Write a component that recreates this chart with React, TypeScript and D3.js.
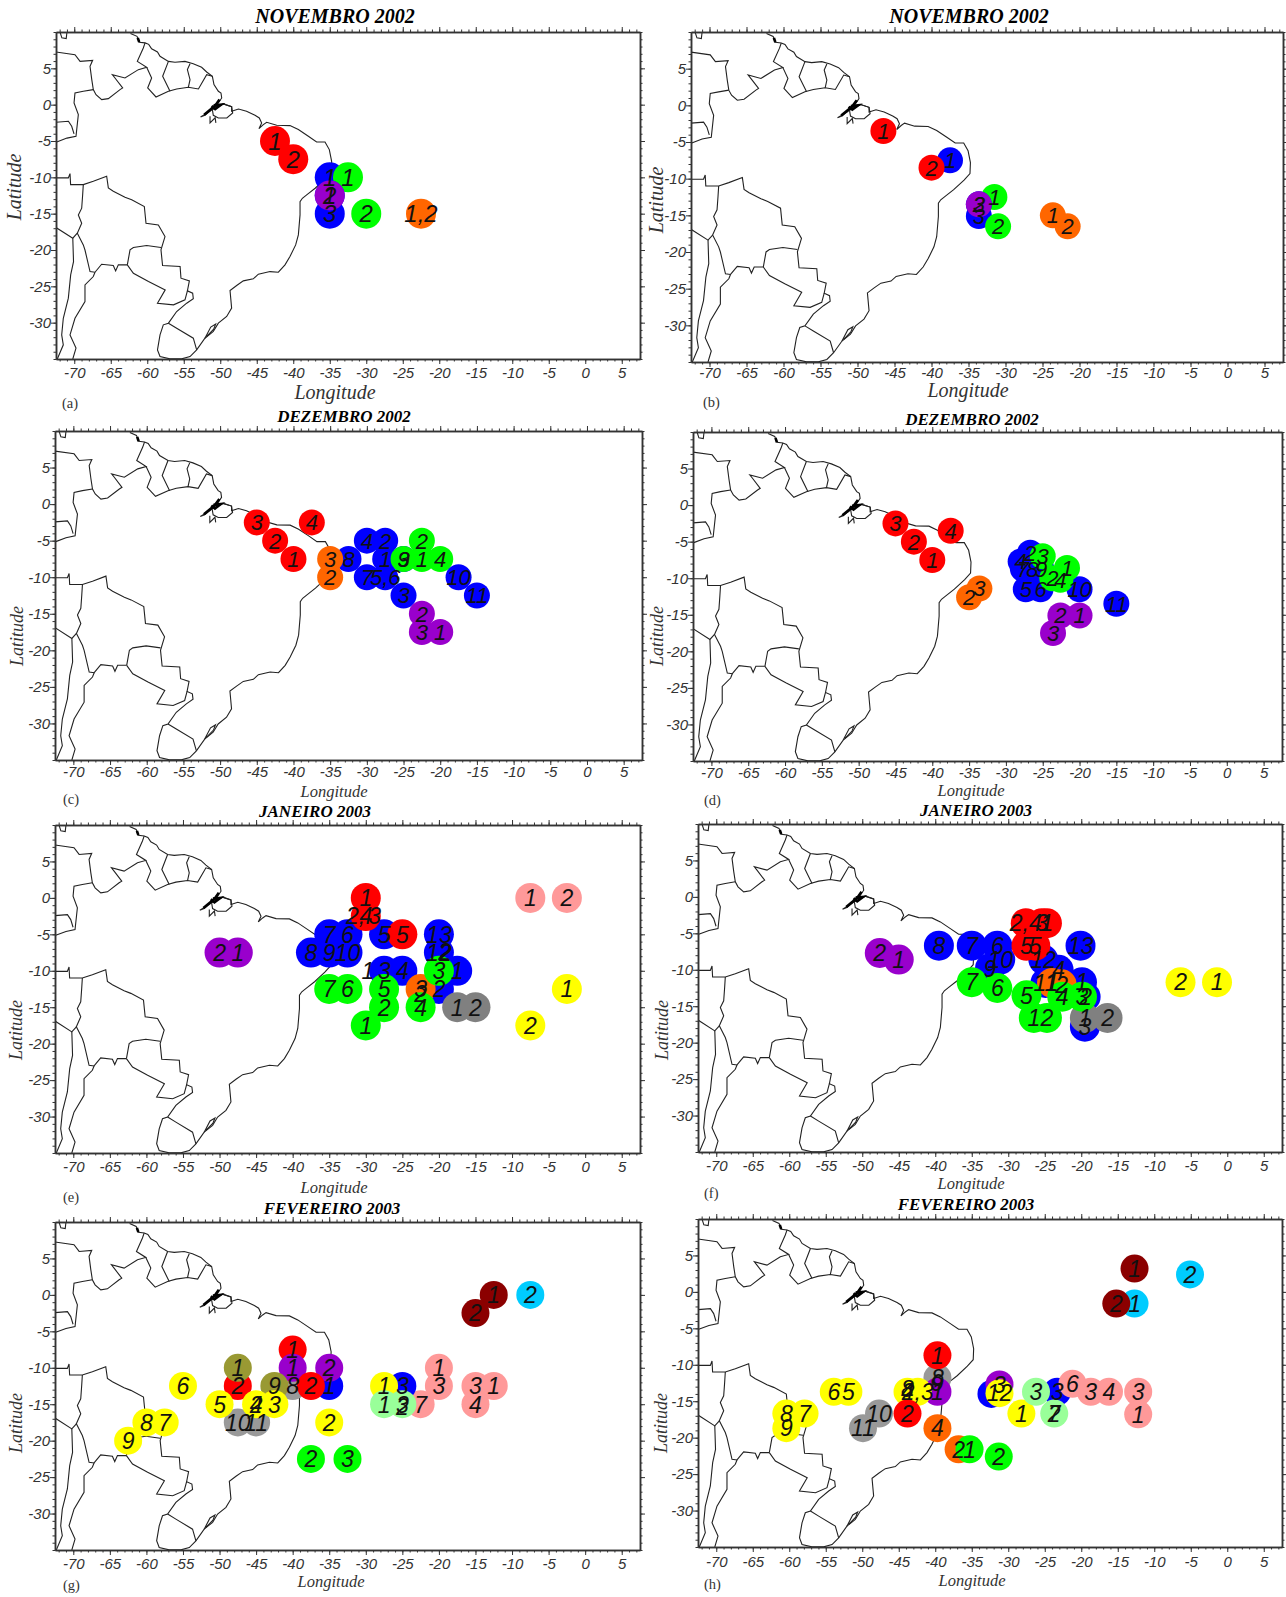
import * as d3 from "d3"
import { useRef, useEffect } from "react"

type LonLat = [number, number]
type Point = [string, number, number, string]

const seriesColors: Record<string, string> = {
  red: "#ff0000",
  blue: "#0000ff",
  green: "#00ff00",
  purple: "#9900cc",
  orange: "#ff6600",
  gray: "#808080",
  silver: "#999999",
  yellow: "#ffff00",
  pink: "#ff9999",
  darkred: "#8b0000",
  cyan: "#00ccff",
  olive: "#999933",
  mint: "#99ff99",
  none: "none",
}

const xMajor = d3.range(-70, 6, 5)
const yMajor = d3.range(-30, 6, 5)
const xMinor = d3.range(-72, 8)
const yMinor = d3.range(-35, 11)

// south america
const coast: LonLat[] = [
  [-62.3, 9.8], [-61.4, 9.4], [-61.1, 8.6], [-60.3, 8.5], [-59.8, 8.3], [-59.4, 7.7], [-58.6, 7.25], [-58.25, 6.65],
  [-57.1, 5.96], [-56.2, 5.83], [-54.83, 5.96], [-53.7, 5.64], [-52.55, 5.14], [-51.86, 4.5], [-51.08, 3.9],
  [-50.86, 2.76], [-50.26, 1.84], [-49.9, 1.6], [-49.8, 0.92], [-50.26, 0.23], [-50.95, -0.45], [-51.4, -0.9],
  [-52.1, -1.46], [-52.7, -1.7], [-51.4, -0.9], [-50.6, -0.2], [-49.58, 0.1], [-48.44, -0.27], [-48.44, -0.9],
  [-47.5, -0.6], [-46.4, -0.9], [-45.24, -1.46], [-44.65, -1.83], [-44.33, -2.52], [-44.7, -3.3], [-44.1, -2.75],
  [-43.64, -2.43], [-42.27, -2.84], [-40.45, -2.88], [-39.3, -3.43], [-37.93, -4.35], [-36.8, -5.13], [-35.65, -5.13],
  [-35.06, -6.18], [-34.74, -7.8], [-34.8, -9.3], [-35.6, -10.2], [-37, -11.5], [-38.16, -12.42], [-38.75, -12.88],
  [-39.07, -13.34], [-39.07, -15.17], [-39.3, -17.92], [-39.67, -19.3], [-40.45, -20.9], [-41.13, -22.05],
  [-42.04, -23.06], [-43.18, -22.97], [-44.78, -23.33], [-45.47, -23.97], [-46.84, -24.25], [-47.75, -24.89],
  [-48.66, -25.58], [-48.44, -28], [-49.12, -29.15], [-50.26, -30.07], [-50.95, -31.2], [-52.1, -32.14],
  [-53.23, -33.74], [-54.14, -34.66], [-55.28, -34.98], [-56.9, -34.98], [-58.25, -34.66], [-58.6, -33.74],
  [-58.25, -31.68], [-57.8, -30.3], [-57.1, -30.07], [-55.97, -28.47], [-54.6, -27.32], [-53.69, -26.7],
  [-53.78, -25.95], [-54.5, -25.62], [-54.23, -24.25], [-55.38, -23.88], [-55.5, -22.28], [-57.9, -22.14],
  [-58.12, -19.99], [-57.57, -18.15], [-58.48, -16.55], [-60.17, -16.32], [-60.4, -14.02], [-62.13, -13.1],
  [-63.05, -12.74], [-64.65, -11.92], [-65.33, -11.46], [-65.56, -9.85], [-67.39, -10.54], [-68.76, -11],
  [-70.5, -11], [-70.58, -9.49], [-70.81, -10.08], [-72.5, -10.08],
]
const marajo: LonLat[] = [
  [-51.08, -0.68], [-49.58, 0.1], [-48.44, -0.27], [-48.3, -1.14], [-49.1, -1.83], [-50.26, -1.83], [-50.95, -1.46], [-51.08, -0.68],
]
const amazonMouth: LonLat[] = [[-51.4, -1.6], [-51.4, -2.5], [-50.7, -1.8], [-50.6, -2.5]]
const patos: LonLat[] = [[-52.1, -32.14], [-51.3, -30.6], [-50.63, -30.2], [-50.9, -30.9], [-51.86, -31.9]]
const uruguay: LonLat[] = [[-57.1, -30.07], [-55.97, -30.76], [-53.69, -32.14], [-53.23, -33.74]]
const bolivia: LonLat[] = [
  [-68.76, -11], [-68.85, -12.42], [-68.98, -14.25], [-69.44, -15.17], [-68.98, -16.32], [-69.58, -17.69],
  [-68.76, -19.3], [-68.53, -20], [-67.84, -22.97], [-67.16, -23.06], [-66.25, -21.96], [-64.65, -22.14],
  [-64.33, -22.87], [-63.96, -22.05], [-62.73, -22.05],
]
const peruChile: LonLat[] = [[-72.5, -16.9], [-70.2, -18.38], [-69.58, -17.69]]
const chileCoast: LonLat[] = [
  [-70.2, -18.38], [-70.1, -21.6], [-70.49, -23.42], [-70.81, -26.63], [-71.5, -29.4], [-71.72, -31.68], [-71.5, -33.05], [-72.32, -35],
]
const andes: LonLat[] = [
  [-67.16, -23.06], [-67.39, -23.65], [-68.53, -24.8], [-68.53, -27.09], [-69.9, -29.4], [-70.58, -31.68], [-69.76, -33.5], [-70.2, -35],
]
const paraguayNorth: LonLat[] = [
  [-62.73, -22.05], [-62.36, -19.99], [-61.9, -19.66], [-60.08, -19.39], [-58.12, -19.66],
]
const paraguaySouth: LonLat[] = [
  [-62.73, -22.05], [-61.9, -23.2], [-59.83, -24.34], [-57.54, -25.49], [-58.6, -27.32], [-56.4, -27.55], [-54.83, -26.86], [-54.5, -25.62],
]
const venezuela: LonLat[] = [
  [-72.5, 7.25], [-69.9, 6.88], [-69.2, 5.96], [-67.48, 6.1], [-67.84, 5.28], [-67.6, 3.44], [-67.39, 2.07], [-67.02, 1.38],
  [-66.24, 0.69], [-65.33, 0.83], [-63.73, 2.07], [-63.37, 2.3], [-64.42, 3.67], [-64.78, 4.13], [-63.05, 3.67],
  [-61.22, 4.82], [-60.08, 5.14], [-61.36, 5.96], [-60.54, 7.8], [-60.3, 8.5],
]
const guianas: LonLat[] = [
  [-60.08, 5.14], [-59.4, 3.67], [-59.94, 2.3], [-58.8, 1.06], [-57.1, 1.84], [-55.97, 2.16], [-54.37, 2.39], [-52.99, 2.16], [-51.86, 4.13], [-51.08, 3.9],
]
const guyanaSuriname: LonLat[] = [[-57.1, 5.96], [-57.89, 3.9], [-56.88, 1.84]]
const surinameGuiana: LonLat[] = [[-54.14, 5.64], [-54.5, 4.82], [-54.14, 3.44], [-54.37, 2.39]]
const colombia: LonLat[] = [
  [-67.39, 2.07], [-68.76, 1.84], [-69.9, 1.61], [-70.03, 0.23], [-69.44, -1.37], [-69.76, -4.35], [-71, -4.6], [-72.4, -5.13],
]
const colombiaPeru: LonLat[] = [[-70.03, -4.03], [-70.35, -2.98], [-70.8, -2.29], [-72.5, -2.43]]
const maracaibo: LonLat[] = [[-71.95, 10], [-71.7, 9.2], [-71.1, 9.1], [-71, 10]]

const mapLines = [
  coast, marajo, amazonMouth, patos, uruguay, bolivia, peruChile, chileCoast, andes, paraguayNorth, paraguaySouth,
  venezuela, guianas, guyanaSuriname, surinameGuiana, colombia, colombiaPeru, maracaibo,
]

// river mouths, where the outline clots to solid black
const amazonDelta: LonLat[] = [[-50.1, 0.7], [-50.6, 0], [-51, -0.4], [-51.5, -0.8], [-52.2, -1.4]]
const amazonInner: LonLat[] = [[-50.9, -0.1], [-49.9, 0], [-50.7, -0.6], [-51.2, -0.2]]
const orinocoMouth: LonLat[] = [[-61.3, 9.2], [-61.1, 8.6]]
const heavyLines = [amazonDelta, amazonInner, orinocoMouth]

const pointsA: Point[] = [
  ["red", -42.5, -5, "1"], ["red", -40, -7.5, "2"], ["blue", -35, -10, "1"], ["green", -32.5, -10, "1"],
  ["blue", -35, -15, "3"], ["blue", -35, -12.5, "2"], ["purple", -35, -12.5, "1"], ["green", -30, -15, "2"],
  ["orange", -22.5, -15, "1,2"],
]
const pointsB: Point[] = [
  ["red", -46.5, -3.5, "1"], ["blue", -37.5, -7.5, "1"], ["red", -40, -8.5, "2"], ["green", -31.5, -12.5, "1"],
  ["blue", -33.6, -15.1, "3"], ["green", -31, -16.5, "2"], ["blue", -33.6, -13.5, "2"], ["purple", -33.6, -13.5, "3"],
  ["orange", -23.6, -15, "1"], ["orange", -21.6, -16.5, "2"],
]
const pointsC: Point[] = [
  ["red", -45, -2.5, "3"], ["red", -42.5, -5, "2"], ["red", -40, -7.5, "1"], ["red", -37.5, -2.5, "4"],
  ["blue", -32.5, -7.5, "8"], ["orange", -35, -7.5, "3"], ["orange", -35, -10, "2"], ["blue", -30, -5, "4"],
  ["blue", -27.5, -5, "2"], ["blue", -27.5, -7.5, "1"], ["blue", -30, -10, "7"], ["blue", -27.5, -10, "5,6"],
  ["blue", -25, -12.5, "3"], ["blue", -25, -7.5, "9"], ["green", -25, -7.5, "3"], ["green", -22.5, -5, "2"],
  ["green", -22.5, -7.5, "1"], ["green", -20, -7.5, "4"], ["blue", -17.5, -10, "10"], ["blue", -15, -12.5, "11"],
  ["purple", -22.5, -15, "2"], ["purple", -22.5, -17.5, "3"], ["purple", -20, -17.5, "1"],
]
const pointsD: Point[] = [
  ["red", -45, -2.5, "3"], ["red", -42.5, -5, "2"], ["red", -40, -7.5, "1"], ["red", -37.5, -3.5, "4"],
  ["orange", -35, -12.6, "2"], ["orange", -33.6, -11.4, "3"], ["blue", -26.7, -6.5, "2"], ["blue", -28, -7.7, "4"],
  ["blue", -27.7, -8.7, "7"], ["blue", -26.4, -8.7, "8"], ["blue", -25.2, -8.7, "9"], ["blue", -27.3, -11.5, "5"],
  ["blue", -25.3, -11.5, "6"], ["blue", -20, -11.5, "10"], ["blue", -15, -13.5, "11"], ["green", -25, -7, "3"],
  ["green", -21.7, -8.6, "1"], ["green", -23.7, -10, "2"], ["green", -22.6, -10.2, "4"], ["purple", -22.6, -15.1, "2"],
  ["purple", -20, -15.1, "1"], ["purple", -23.6, -17.5, "3"],
]
const pointsE: Point[] = [
  ["purple", -47.5, -7.5, "1"], ["purple", -50, -7.5, "2"], ["blue", -35, -5, "7"], ["blue", -32.5, -5, "6"],
  ["blue", -27.5, -5, "5"], ["blue", -20, -5, "13"], ["blue", -20, -7.5, "12"], ["blue", -37.5, -7.5, "8"],
  ["blue", -35, -7.5, "9"], ["blue", -32.5, -7.5, "10"], ["blue", -27.5, -10, "3"], ["blue", -25, -10, "4"],
  ["blue", -17.5, -10, "1"], ["blue", -20, -12.5, "2"], ["none", -29.7, -10, "1"], ["red", -30, 0, "1"],
  ["red", -30, -2.5, "4"], ["none", -31.4, -2.5, "2,"], ["none", -28.8, -2.5, "3"], ["red", -25, -5, "5"],
  ["orange", -22.5, -12.5, "3"], ["none", -22.5, -13.2, "2"],
  ["green", -20, -10, "3"], ["none", -19.2, -7.4, "2"], ["green", -35, -12.5, "7"], ["green", -32.5, -12.5, "6"],
  ["green", -27.5, -12.5, "5"], ["green", -27.5, -15, "2"], ["green", -22.5, -15, "4"], ["green", -30, -17.5, "1"],
  ["gray", -17.5, -15, "1"], ["gray", -15, -15, "2"], ["pink", -7.5, 0, "1"], ["pink", -2.5, 0, "2"],
  ["yellow", -2.5, -12.5, "1"], ["yellow", -7.5, -17.5, "2"],
]
const pointsF: Point[] = [
  ["purple", -45, -8.6, "1"], ["purple", -47.6, -7.7, "2"], ["blue", -39.5, -6.7, "8"], ["blue", -35, -6.7, "7"],
  ["blue", -31.5, -6.7, "6"], ["blue", -31.1, -8.6, "10"], ["blue", -32.5, -9.8, "9"], ["blue", -25.2, -8.6, "12"],
  ["blue", -20.1, -6.7, "13"], ["blue", -23.1, -10, "4"], ["blue", -19.9, -11.7, "1"], ["blue", -19.4, -13.7, "2"],
  ["blue", -19.5, -17.8, "3"], ["blue", -24.9, -11.8, "11"], ["gray", -19.5, -16.6, "1"], ["gray", -16.4, -16.6, "2"],
  ["orange", -24, -11.8, "1"], ["orange", -22.7, -12, "2"], ["red", -27.6, -3.6, "2,4"], ["red", -25.4, -3.6, "3"],
  ["red", -24.7, -3.6, "1"], ["red", -27.5, -6.7, "5"], ["red", -26.3, -6.7, "5"], ["green", -35, -11.7, "7"],
  ["green", -31.5, -12.5, "6"], ["green", -27.5, -13.5, "5"], ["green", -26.5, -16.6, "1"], ["green", -24.7, -16.6, "2"],
  ["green", -22.6, -13.7, "4"], ["green", -19.9, -13.7, "3"], ["yellow", -6.4, -11.7, "2"], ["yellow", -1.4, -11.7, "1"],
]
const pointsG: Point[] = [
  ["darkred", -12.5, 0, "1"], ["darkred", -15, -2.5, "2"], ["cyan", -7.5, 0, "2"], ["silver", -40, -12.5, "8"],
  ["blue", -35, -12.5, "1"], ["red", -40, -7.5, "1"], ["purple", -40, -10, "1"], ["purple", -35, -10, "2"],
  ["red", -47.5, -12.5, "2"], ["olive", -47.5, -10, "1"], ["olive", -42.5, -12.5, "9"], ["red", -37.5, -12.5, "2"],
  ["silver", -47.5, -17.5, "10"], ["silver", -45, -17.5, "11"], ["yellow", -55, -12.5, "6"], ["yellow", -50, -15, "5"],
  ["yellow", -45, -15, "4"], ["none", -45, -15, "2"], ["yellow", -42.5, -15, "3"], ["yellow", -57.5, -17.5, "7"], ["yellow", -60, -17.5, "8"],
  ["yellow", -62.5, -20, "9"], ["yellow", -35, -17.5, "2"], ["green", -37.5, -22.5, "2"], ["green", -32.5, -22.5, "3"],
  ["pink", -22.5, -15, "7"], ["pink", -20, -10, "1"], ["pink", -20, -12.5, "3"], ["pink", -15, -12.5, "3"],
  ["pink", -12.5, -12.5, "1"], ["pink", -15, -15, "4"], ["blue", -25, -12.5, "3"], ["yellow", -27.5, -12.5, "1"],
  ["mint", -27.5, -15, "1"], ["mint", -25, -15, "3"], ["none", -25, -15.4, "2"],
]
const pointsH: Point[] = [
  ["cyan", -12.7, -1.6, "1"], ["cyan", -5.1, 2.4, "2"], ["darkred", -12.7, 3.2, "1"], ["darkred", -15.2, -1.6, "2"],
  ["silver", -39.7, -11.8, "8"], ["red", -39.7, -8.7, "1"], ["purple", -39.7, -13.7, "1"], ["none", -39.7, -12.5, "9"],
  ["yellow", -43.8, -13.7, "4"], ["none", -43.8, -13.3, "8"], ["yellow", -42.4, -13.7, "2,3"], ["yellow", -53.9, -13.7, "6"],
  ["yellow", -51.9, -13.7, "5"], ["yellow", -57.9, -16.7, "7"], ["yellow", -60.4, -16.7, "8"], ["yellow", -60.4, -18.7, "9"],
  ["silver", -47.7, -16.7, "10"], ["silver", -49.9, -18.7, "11"], ["red", -43.8, -16.7, "2"], ["orange", -39.7, -18.7, "4"],
  ["orange", -36.8, -21.6, "2"], ["green", -35.3, -21.6, "1"], ["green", -31.3, -22.6, "2"], ["blue", -32.3, -14, ""],
  ["purple", -31.2, -12.7, "3"], ["yellow", -31.2, -13.9, "12"], ["yellow", -28.2, -16.7, "1"], ["blue", -23.3, -13.7, "3"],
  ["mint", -26.2, -13.7, "3"], ["mint", -23.7, -16.7, "7"], ["none", -23.7, -16.7, "2"], ["pink", -21.2, -12.6, "6"],
  ["pink", -18.7, -13.7, "3"], ["pink", -16.2, -13.7, "4"], ["pink", -12.2, -13.7, "3"], ["pink", -12.2, -16.8, "1"],
]

const layout = [
  { tag: "(a)", title: "NOVEMBRO 2002", points: pointsA, frame: [56, 640, 32, 359], r: 15, tickPad: 3, titleAt: [335, 23], titleSize: 20, lonAt: [335, 399], lonSize: 20, tagAt: [62, 408], latAt: [21, 187], latSize: 20, numSize: 24 },
  { tag: "(b)", title: "NOVEMBRO 2002", points: pointsB, frame: [691, 1283, 32, 362], r: 13, tickPad: 0, titleAt: [969, 23], titleSize: 20, lonAt: [968, 397], lonSize: 20, tagAt: [703, 407], latAt: [663, 200], latSize: 20, numSize: 22 },
  { tag: "(c)", title: "DEZEMBRO 2002", points: pointsC, frame: [55, 642, 431, 760], r: 13, tickPad: 1, titleAt: [344, 422], titleSize: 17, lonAt: [334, 797], lonSize: 16.5, tagAt: [63, 804], latAt: [23, 636], latSize: 18, numSize: 22 },
  { tag: "(d)", title: "DEZEMBRO 2002", points: pointsD, frame: [693, 1282, 432, 761], r: 13, tickPad: 1, titleAt: [972, 425], titleSize: 17, lonAt: [971, 796], lonSize: 16.5, tagAt: [704, 805], latAt: [663, 636], latSize: 18, numSize: 22 },
  { tag: "(e)", title: "JANEIRO 2003", points: pointsE, frame: [55, 640, 825, 1153], r: 15, tickPad: 3, titleAt: [315, 817], titleSize: 17, lonAt: [334, 1193], lonSize: 16.5, tagAt: [63, 1202], latAt: [22, 1030], latSize: 18, numSize: 23 },
  { tag: "(f)", title: "JANEIRO 2003", points: pointsF, frame: [698, 1282, 824, 1152], r: 15, tickPad: 3, titleAt: [976, 816], titleSize: 17, lonAt: [971, 1189], lonSize: 16.5, tagAt: [704, 1198], latAt: [668, 1030], latSize: 18, numSize: 23 },
  { tag: "(g)", title: "FEVEREIRO 2003", points: pointsG, frame: [55, 640, 1222, 1550], r: 14, tickPad: 3, titleAt: [332, 1214], titleSize: 17, lonAt: [331, 1587], lonSize: 16.5, tagAt: [63, 1590], latAt: [22, 1423], latSize: 18, numSize: 23 },
  { tag: "(h)", title: "FEVEREIRO 2003", points: pointsH, frame: [698, 1282, 1219, 1547], r: 14, tickPad: 4, titleAt: [966, 1210], titleSize: 17, lonAt: [972, 1586], lonSize: 16.5, tagAt: [704, 1589], latAt: [667, 1423], latSize: 18, numSize: 23 },
]

const serif = "'Liberation Serif', serif"
const sans = "'Liberation Sans', sans-serif"
const ink = "#333"

export default function App() {
  const ref = useRef<SVGSVGElement>(null)

  useEffect(() => {
    const svg = d3.select(ref.current)
    svg.selectAll("*").remove()

    layout.forEach((p, i) => {
      const [left, right, top, bottom] = p.frame
      const x = d3.scaleLinear().domain([-72.5, 7.5]).range([left, right])
      const y = d3.scaleLinear().domain([10, -35]).range([top, bottom])
      const g = svg.append("g")

      const clipId = `clip-${i}`
      g.append("clipPath").attr("id", clipId).append("rect")
        .attr("x", left).attr("y", top).attr("width", right - left).attr("height", bottom - top)

      const line = d3.line<LonLat>().x((d) => x(d[0])).y((d) => y(d[1]))
      const map = g.append("g").attr("clip-path", `url(#${clipId})`)
      map.selectAll("path.thin").data(mapLines).join("path")
        .attr("class", "thin")
        .attr("d", (d) => line(d))
        .attr("fill", "none").attr("stroke", "#222").attr("stroke-width", 1.1)
      map.selectAll("path.heavy").data(heavyLines).join("path")
        .attr("class", "heavy")
        .attr("d", (d) => line(d))
        .attr("fill", "none").attr("stroke", "#000").attr("stroke-width", 2.6)

      const blank = () => ""
      const plain = (d: d3.NumberValue) => String(d)
      const axes = [
        { at: `translate(0,${bottom})`, minor: d3.axisBottom(x).tickValues(xMinor), major: d3.axisBottom(x).tickValues(xMajor).tickFormat(plain) },
        { at: `translate(0,${top})`, minor: d3.axisTop(x).tickValues(xMinor), major: d3.axisTop(x).tickValues(xMajor).tickFormat(blank) },
        { at: `translate(${left},0)`, minor: d3.axisLeft(y).tickValues(yMinor), major: d3.axisLeft(y).tickValues(yMajor).tickFormat(plain) },
        { at: `translate(${right},0)`, minor: d3.axisRight(y).tickValues(yMinor), major: d3.axisRight(y).tickValues(yMajor).tickFormat(blank) },
      ]
      axes.forEach((a, k) => {
        const minor = g.append("g").attr("transform", a.at)
          .call(a.minor.tickSize(2.5).tickSizeOuter(0).tickFormat(blank))
        const major = g.append("g").attr("transform", a.at)
          .call(a.major.tickSize(5).tickSizeOuter(0).tickPadding(k === 2 ? 0 : p.tickPad))
        minor.selectAll("line").attr("stroke", ink)
        major.selectAll("line").attr("stroke", ink)
        minor.select(".domain").attr("stroke", ink).attr("stroke-width", 1.5)
        major.select(".domain").attr("stroke", ink).attr("stroke-width", 1.5)
        major.selectAll("text")
          .attr("fill", ink)
          .style("font-family", sans).style("font-style", "italic").style("font-size", "15px")
      })

      g.selectAll("circle").data(p.points.filter((d) => d[0] !== "none")).join("circle")
        .attr("cx", (d) => x(d[1])).attr("cy", (d) => y(d[2]))
        .attr("r", p.r)
        .attr("fill", (d) => seriesColors[d[0]])

      g.selectAll("text.num").data(p.points).join("text")
        .attr("class", "num")
        .attr("x", (d) => x(d[1])).attr("y", (d) => y(d[2]))
        .attr("dy", "0.36em")
        .attr("text-anchor", "middle")
        .attr("fill", "#111")
        .style("font-family", sans).style("font-style", "italic").style("font-size", `${p.numSize}px`)
        .text((d) => d[3])

      g.append("text")
        .attr("x", p.titleAt[0]).attr("y", p.titleAt[1])
        .attr("text-anchor", "middle")
        .style("font-family", serif).style("font-weight", "bold").style("font-style", "italic").style("font-size", `${p.titleSize}px`)
        .text(p.title)

      g.append("text")
        .attr("x", p.lonAt[0]).attr("y", p.lonAt[1])
        .attr("text-anchor", "middle").attr("fill", ink)
        .style("font-family", serif).style("font-style", "italic").style("font-size", `${p.lonSize}px`)
        .text("Longitude")

      g.append("text")
        .attr("transform", `translate(${p.latAt[0]},${p.latAt[1]}) rotate(-90)`)
        .attr("text-anchor", "middle").attr("fill", ink)
        .style("font-family", serif).style("font-style", "italic").style("font-size", `${p.latSize}px`)
        .text("Latitude")

      g.append("text")
        .attr("x", p.tagAt[0]).attr("y", p.tagAt[1]).attr("fill", ink)
        .style("font-family", serif).style("font-size", "14.5px")
        .text(p.tag)
    })
  }, [])

  return (
    <svg ref={ref} width={1286} height={1597} style={{ position: "absolute", left: 0, top: 0, background: "#fff" }} />
  )
}
